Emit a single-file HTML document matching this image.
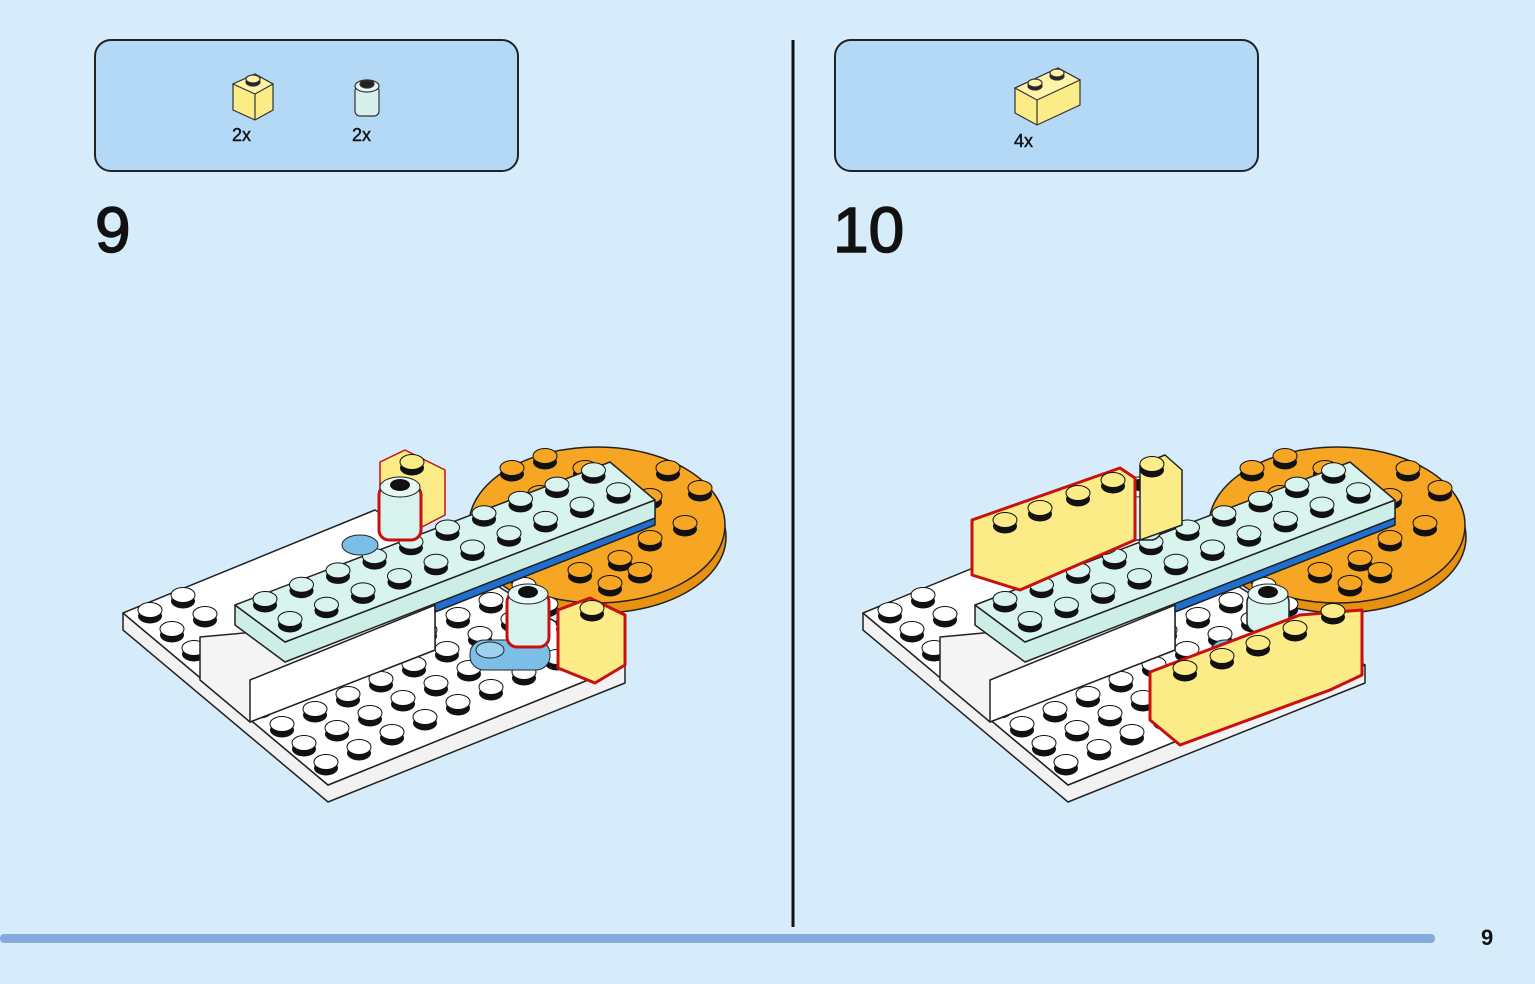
<!DOCTYPE html>
<html><head><meta charset="utf-8"><style>
html,body{margin:0;padding:0;background:#d7ecfb;}
body{width:1535px;height:984px;position:relative;overflow:hidden;font-family:"Liberation Sans",sans-serif;}
</style></head><body>
<svg id="s" width="1535" height="984" xmlns="http://www.w3.org/2000/svg" style="position:absolute;left:0;top:0">
<rect width="1535" height="984" fill="#d7ecfb"/>
<rect x="95" y="40" width="423" height="131" rx="16" fill="#b3d9f6" stroke="#222" stroke-width="2"/>
<rect x="835" y="40" width="423" height="131" rx="16" fill="#b3d9f6" stroke="#222" stroke-width="2"/>
<line x1="793" y1="40" x2="793" y2="927" stroke="#111" stroke-width="3"/>
<rect x="0" y="934" width="1435" height="9" rx="4" fill="#86aade"/>
<text x="1481" y="945" font-size="22" font-weight="bold" fill="#111">9</text>
<text x="95" y="252" font-size="64" fill="#111" stroke="#111" stroke-width="1.5">9</text>
<text x="833" y="252" font-size="64" fill="#111" stroke="#111" stroke-width="1.5">10</text>
<text x="232" y="141" font-size="18" fill="#111" stroke="#111" stroke-width="0.4">2x</text>
<text x="352" y="141" font-size="18" fill="#111" stroke="#111" stroke-width="0.4">2x</text>
<text x="1014" y="147" font-size="18" fill="#111" stroke="#111" stroke-width="0.4">4x</text>
<g stroke="#333" stroke-width="1.2">
<polygon points="233,84 255,74 273,84 273,110 255,120 233,110" fill="#fbec88"/>
<polygon points="233,84 255,94 273,84 255,74" fill="#fff3a8"/>
<line x1="255" y1="94" x2="255" y2="120"/>
<ellipse cx="253" cy="82" rx="7" ry="4" fill="#222"/><ellipse cx="253" cy="79" rx="7" ry="4" fill="#fff3a8"/>
<rect x="355" y="86" width="24" height="30" rx="5" fill="#d8f0ec"/>
<ellipse cx="367" cy="86" rx="12" ry="6" fill="#e8f8f5"/>
<ellipse cx="367" cy="84" rx="7" ry="4" fill="#222"/>
<polygon points="1015,88 1058,68 1080,80 1080,105 1037,125 1015,113" fill="#fbec88"/>
<polygon points="1015,88 1037,100 1080,80 1058,68" fill="#fff3a8"/>
<line x1="1037" y1="100" x2="1037" y2="125"/>
<ellipse cx="1035" cy="86" rx="7" ry="4" fill="#222"/><ellipse cx="1035" cy="83" rx="7" ry="4" fill="#fff3a8"/>
<ellipse cx="1057" cy="76" rx="7" ry="4" fill="#222"/><ellipse cx="1057" cy="73" rx="7" ry="4" fill="#fff3a8"/>
</g>
<g id="m0"></g><g id="m1"></g>
</svg>
<script>
var NS="http://www.w3.org/2000/svg";
function el(p,t,a){var e=document.createElementNS(NS,t);for(var k in a)e.setAttribute(k,a[k]);p.appendChild(e);return e;}
function poly(g,pts,f,ox){return el(g,"polygon",{points:pts.map(function(p){return (p[0]+ox)+","+p[1]}).join(" "),fill:f,stroke:"#222","stroke-width":1.5,"stroke-linejoin":"round"});}
function stud(g,x,y,top){el(g,"ellipse",{cx:x,cy:y+4,rx:12,ry:7.5,fill:"#111"});el(g,"ellipse",{cx:x,cy:y-2,rx:12,ry:7.5,fill:top,stroke:"#111","stroke-width":1});}
function model(g,ox,ten){
 poly(g,[[123,613],[123,630],[328,802],[625,683],[625,665],[328,785]],"#f2f2f2",ox);
 poly(g,[[123,613],[375,510],[625,665],[328,785]],"#ffffff",ox);
 el(g,"ellipse",{cx:600+ox,cy:537,rx:126,ry:76,fill:"#e8900f",stroke:"#222","stroke-width":1.5});
 el(g,"ellipse",{cx:597+ox,cy:525,rx:128,ry:78,fill:"#f7a623",stroke:"#222","stroke-width":1.5});
 var os=[[512,470],[545,458],[585,470],[668,470],[700,490],[650,498],[685,525],[650,540],[620,560],[580,572],[640,572],[610,585],[540,495]];
 os.forEach(function(p){stud(g,p[0]+ox,p[1],"#f7a623");});
 for(var a=0;a<9;a++)for(var b=0;b<9;b++){
   var x=150+a*22+b*33,y=612+a*19-b*15;
   var covered=(a<5&&b>=3)||(a<3&&b>=2);
   if(a>=2&&a<=4&&b>=1) covered=true;
   if(!covered&&x<620&&y<780) stud(g,x+ox,y,"#fff");
 }
 poly(g,[[200,637],[200,680],[250,722],[435,650],[435,600],[385,620]],"#f4f4f4",ox);
 poly(g,[[250,680],[250,722],[435,650],[435,605]],"#ffffff",ox);
 poly(g,[[435,600],[435,612],[655,525],[655,512]],"#1f6fd0",ox);
 poly(g,[[235,605],[235,625],[285,662],[655,518],[655,500],[285,642]],"#cdeee6",ox);
 poly(g,[[235,605],[610,462],[655,500],[285,642]],"#d9f3ee",ox);
 for(var r=0;r<2;r++)for(var c=0;c<10;c++){
   stud(g,265+r*25+c*36.5+ox,601+r*20-c*14.3,"#d9f3ee");
 }
 el(g,"ellipse",{cx:360+ox,cy:545,rx:18,ry:10,fill:"#7bbfe8",stroke:"#222"});
 el(g,"rect",{x:470+ox,y:640,width:80,height:30,rx:14,fill:"#7bbfe8",stroke:"#222"});
 el(g,"ellipse",{cx:490+ox,cy:650,rx:14,ry:8,fill:"#9fd2f0",stroke:"#222"});
 function rb(x,y,h,red){el(g,"rect",{x:x-21+ox,y:y,width:42,height:h,rx:10,fill:"#d8f2ee",stroke:red?"#c81010":"#222","stroke-width":red?3:1.5});
   el(g,"ellipse",{cx:x+ox,cy:y+2,rx:20,ry:10,fill:"#e8f9f6",stroke:"#222"});el(g,"ellipse",{cx:x+ox,cy:y,rx:10,ry:6,fill:"#111"});}
 if(!ten){
  poly(g,[[380,462],[405,450],[445,470],[445,515],[420,528],[380,510]],"#fbec88",ox).setAttribute("stroke","#c81010");
  stud(g,412+ox,464,"#fbec88");
  rb(400,485,55,true);
  rb(528,592,55,true);
  var p=poly(g,[[558,610],[590,598],[625,615],[625,665],[595,683],[558,668]],"#fbec88",ox);p.setAttribute("stroke","#c81010");p.setAttribute("stroke-width",3);
  stud(g,592+ox,610,"#fbec88");
 } else {
  rb(400,485,55,false);
  rb(528,592,40,false);
  poly(g,[[1140,465],[1165,455],[1182,470],[1182,525],[1140,540]].map(function(p){return [p[0]-740,p[1]]}),"#fbec88",ox);
  stud(g,1152,466,"#fbec88");
  var t=poly(g,[[972,520],[1120,468],[1135,478],[1135,540],[1020,590],[972,575]].map(function(p){return [p[0]-740,p[1]]}),"#fbec88",ox);t.setAttribute("stroke","#c81010");t.setAttribute("stroke-width",3);
  [[1005,522],[1040,510],[1078,495],[1113,482]].forEach(function(p){stud(g,p[0],p[1],"#fbec88");});
  var q=poly(g,[[1150,672],[1300,615],[1362,610],[1362,675],[1330,690],[1180,745],[1150,720]].map(function(p){return [p[0]-740,p[1]]}),"#fbec88",ox);q.setAttribute("stroke","#c81010");q.setAttribute("stroke-width",3);
  [[1185,670],[1222,658],[1258,645],[1295,630],[1333,613]].forEach(function(p){stud(g,p[0],p[1],"#fbec88");});
 }
}
model(document.getElementById("m0"),0,false);
model(document.getElementById("m1"),740,true);
</script>
</body></html>
